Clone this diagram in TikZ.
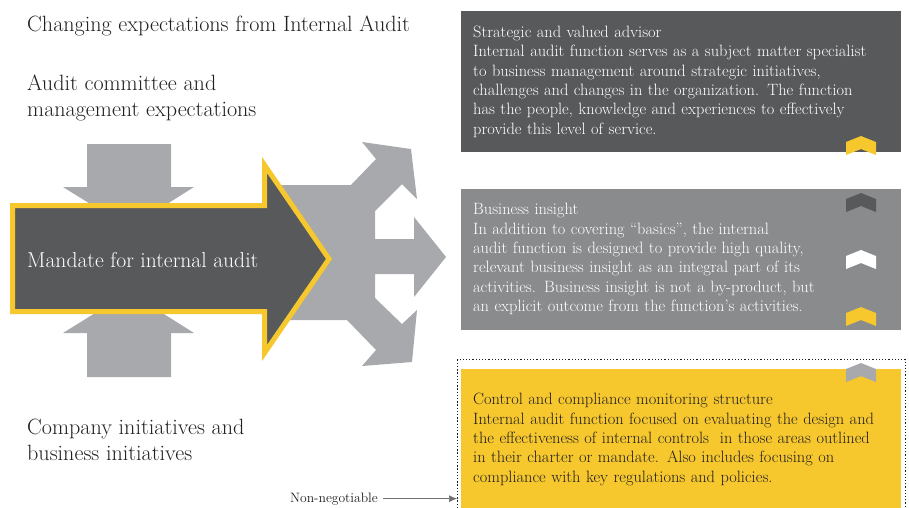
\documentclass[tikz,border=0pt]{standalone}
\usepackage{tikz}
\usetikzlibrary{arrows.meta, positioning, calc}

\begin{document}
\begin{tikzpicture}[
    x=1pt, y=-1pt,
    panel/.style n args={2}{
        rectangle, fill=#1, text=#2, anchor=north west,
        minimum width=440pt, minimum height=141pt,
        text width=416pt, align=left, inner sep=12pt,
        font=\fontsize{16.4}{19.3}\selectfont
    },
    heading/.style={
        inner sep=0pt, text=iaText, align=left,
        font=\fontsize{22.1}{25.8}\selectfont
    },
    frame/.style={
        rectangle, draw=iaText, anchor=north west, inner sep=0pt,
        line width=1.3pt, dash pattern=on 1.3pt off 1.9pt,
        minimum width=448pt, minimum height=160pt
    },
    harrow/.style={
        -{Latex[length=8pt,width=7pt]}, draw=iaLine, line width=0.7pt
    },
    chevron/.pic={
        \path[pic actions] (0,6) -- (15,0) -- (30,6) -- (30,19)
            -- (15,13) -- (0,19) -- cycle;
    },
]

\definecolor{iaDark}{RGB}{88,89,91}
\definecolor{iaMid}{RGB}{138,139,141}
\definecolor{iaLight}{RGB}{167,169,172}
\definecolor{iaYellow}{RGB}{246,200,46}
\definecolor{iaText}{RGB}{35,31,32}
\definecolor{iaLine}{RGB}{110,111,114}

\useasboundingbox (0,0) rectangle (909,507);

% ============================================================
% Left column: headings
% ============================================================

\node[heading, anchor=base west] (title) at (27,31)
    {Changing expectations from Internal Audit};
\node[heading, anchor=west] (committee) at (27,98)
    {Audit committee and\\management expectations};
\node[heading, anchor=west] (company) at (27,440)
    {Company initiatives and\\business initiatives};

% ============================================================
% Arrows
% ============================================================

% three-way split behind the mandate arrow
\fill[iaLight] (280,185) -- (351,185) -- (376,159) -- (362,142) -- (411,149)
    -- (417,199) -- (402,184) -- (375,211) -- (375,239) -- (414,239)
    -- (414,217) -- (446,257) -- (414,297) -- (414,274) -- (375,274)
    -- (375,298) -- (402,324) -- (417,310) -- (412,362) -- (362,366)
    -- (376,350) -- (347,320) -- (280,320) -- cycle;

% pressure from above and below
\fill[iaLight] (87,144) -- (171,144) -- (171,187) -- (194,187) -- (129,228)
    -- (63,187) -- (87,187) -- cycle;
\fill[iaLight] (87,377) -- (171,377) -- (171,333) -- (194,333) -- (129,292)
    -- (63,333) -- (87,333) -- cycle;

% mandate arrow
\filldraw[fill=iaDark, draw=iaYellow, line width=5pt]
    (12.5,205.5) -- (264.5,205.5) -- (264.5,165) -- (329,259)
    -- (264.5,353) -- (264.5,311.5) -- (12.5,311.5) -- cycle;
\node[anchor=base west, inner sep=0pt, text=white,
      font=\fontsize{21.6}{24}\selectfont] (mandate) at (27,267)
    {Mandate for internal audit};

% ============================================================
% Right column: service levels
% ============================================================

\node[panel={iaDark}{white}] (advisor) at (461,11) {
    Strategic and valued advisor\\
    Internal audit function serves as a subject matter specialist\\
    to business management around strategic initiatives,\\
    challenges and changes in the organization. The function\\
    has the people, knowledge and experiences to effectively\\
    provide this level of service.
};

\node[panel={iaMid}{white}, below=36pt of advisor.south west, anchor=north west] (insight) {
    Business insight\\
    In addition to covering ``basics'', the internal\\
    audit function is designed to provide high quality,\\
    relevant business insight as an integral part of its\\
    activities. Business insight is not a by-product, but\\
    an explicit outcome from the function's activities.
};

\node[frame] (limit) at (457,359) {};
\node[panel={iaYellow}{iaText}, below=39pt of insight.south west, anchor=north west] (control) {
    Control and compliance monitoring structure\\
    Internal audit function focused on evaluating the design and\\
    the effectiveness of internal controls\ \ in those areas outlined\\
    in their charter or mandate. Also includes focusing on\\
    compliance with key regulations and policies.
};

% chevrons
\pic[fill=iaYellow] at (846,136) {chevron};
\pic[fill=iaDark]   at (846,193) {chevron};
\pic[fill=white]    at (846,250) {chevron};
\pic[fill=iaYellow] at (846,307) {chevron};
\pic[fill=iaLight]  at (846,363) {chevron};

% ============================================================
% Non-negotiable marker
% ============================================================

\node[anchor=base east, inner sep=0pt, text=iaText,
      font=\fontsize{13.6}{15}\selectfont] (nonneg) at (378,502) {Non-negotiable};
\draw[harrow] ([xshift=5pt]nonneg.east) -- (limit.west |- nonneg.east);

\end{tikzpicture}
\end{document}
